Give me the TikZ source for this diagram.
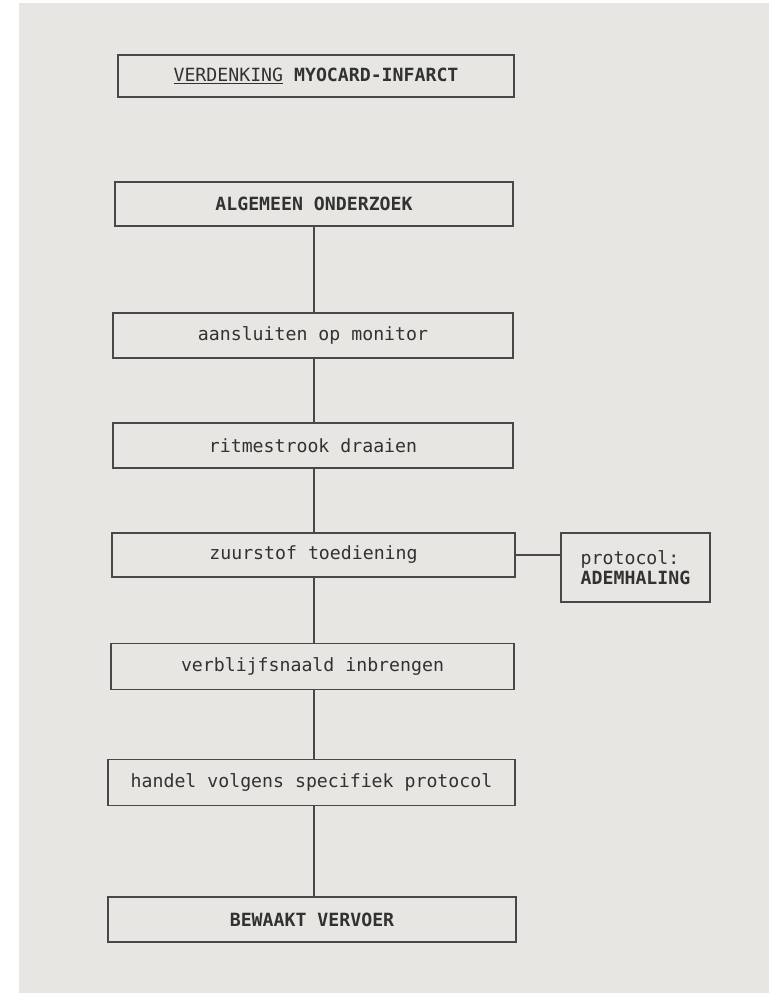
\documentclass[tikz,border=0pt]{standalone}
\usepackage{fontspec}
\usepackage{tikz}
\newfontfamily\printfont{DejaVu Sans Mono}

\tikzset{
  stapbox/.style={draw=lineColor, line width=1.2pt, text=textColor,
    minimum width=400, minimum height=44, inner sep=0pt,
    font=\printfont\fontsize{18.2}{20}\selectfont},
  verbind/.style={draw=lineColor, line width=1.2pt}
}

\begin{document}
\begin{tikzpicture}[x=1pt,y=1pt]
\definecolor{fillColor}{RGB}{231,230,226}
\definecolor{lineColor}{RGB}{72,72,72}
\definecolor{textColor}{RGB}{50,50,50}
\path[use as bounding box,fill=white] (0,0) rectangle (769,993);
\path[fill=fillColor] (19,0) rectangle (769,990);

% stappen
\node[stapbox,minimum width=396,minimum height=42] (verdenking) at (316,917)
  {\underline{VERDENKING} \textbf{MYOCARD-INFARCT}};
\node[stapbox,minimum width=398] (onderzoek) at (314,789) {\textbf{ALGEMEEN ONDERZOEK}};
\node[stapbox,minimum height=45] (monitor) at (313,657.5) {aansluiten op monitor};
\node[stapbox,minimum height=45] (ritme) at (313,547.5) {ritmestrook draaien};
\node[stapbox,minimum width=403] (zuurstof) at (313.5,438) {zuurstof toediening};
\node[stapbox,minimum width=403,minimum height=46] (naald) at (312.5,326.5) {verblijfsnaald inbrengen};
\node[stapbox,minimum width=407,minimum height=46] (protocol) at (311.5,210.5) {handel volgens specifiek protocol};
\node[stapbox,minimum width=408,minimum height=45] (vervoer) at (312,73.5) {\textbf{BEWAAKT VERVOER}};

% zijtak
\node[stapbox,minimum width=149,minimum height=69,align=left] (adem) at (635.5,425.5)
  {protocol:\\\textbf{ADEMHALING}};

% lijnen
\path[verbind] (onderzoek.south) -- (onderzoek.south |- monitor.north);
\path[verbind] (onderzoek.south |- monitor.south) -- (onderzoek.south |- ritme.north);
\path[verbind] (onderzoek.south |- ritme.south) -- (onderzoek.south |- zuurstof.north);
\path[verbind] (onderzoek.south |- zuurstof.south) -- (onderzoek.south |- naald.north);
\path[verbind] (onderzoek.south |- naald.south) -- (onderzoek.south |- protocol.north);
\path[verbind] (onderzoek.south |- protocol.south) -- (onderzoek.south |- vervoer.north);
\path[verbind] (zuurstof.east) -- (zuurstof.east -| adem.west);
\end{tikzpicture}
\end{document}
